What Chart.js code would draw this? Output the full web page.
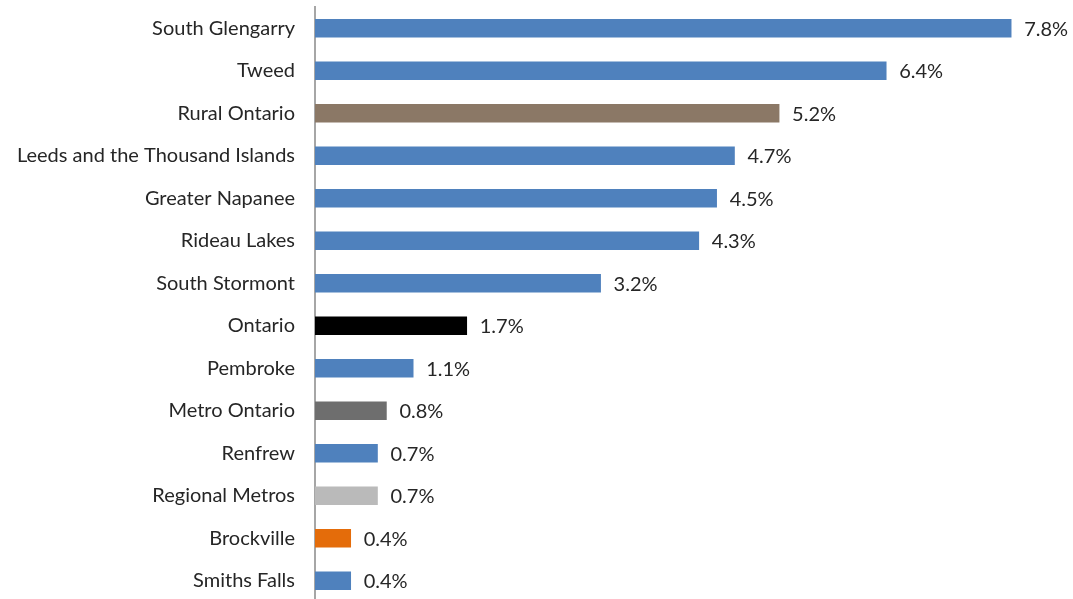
<!DOCTYPE html>
<html>
<head>
<meta charset="utf-8">
<title>Population change</title>
<script src="https://cdn.jsdelivr.net/npm/chart.js@4/dist/chart.umd.min.js"></script>
<style>
  html, body { margin: 0; padding: 0; background: #fff; overflow: hidden; }
  #frame { width: 1073px; height: 599px; overflow: hidden; }
  #wrap { position: relative; width: 1073px; height: 602px; }
</style>
</head>
<body>
<div id="frame"><div id="wrap"><canvas id="chart"></canvas></div></div>
<script>
const places = [
  'South Glengarry', 'Tweed', 'Rural Ontario', 'Leeds and the Thousand Islands',
  'Greater Napanee', 'Rideau Lakes', 'South Stormont', 'Ontario', 'Pembroke',
  'Metro Ontario', 'Renfrew', 'Regional Metros', 'Brockville', 'Smiths Falls'
];
const growth = [7.8, 6.4, 5.2, 4.7, 4.5, 4.3, 3.2, 1.7, 1.1, 0.8, 0.7, 0.7, 0.4, 0.4];
const barColors = [
  '#4f81bd', '#4f81bd', '#8b7866', '#4f81bd', '#4f81bd', '#4f81bd', '#4f81bd',
  '#000000', '#4f81bd', '#6e6e6e', '#4f81bd', '#bababa', '#e46c0a', '#4f81bd'
];

const FONT = 'Lato, "Open Sans", sans-serif';
const TEXT = '#262626';

// percent labels just past the end of each bar
const valueLabels = {
  id: 'valueLabels',
  afterDatasetsDraw(chart) {
    const ctx = chart.ctx;
    const meta = chart.getDatasetMeta(0);
    ctx.save();
    ctx.font = '20px ' + FONT;
    ctx.fillStyle = TEXT;
    ctx.textAlign = 'left';
    ctx.textBaseline = 'middle';
    meta.data.forEach((bar, i) => {
      ctx.fillText(growth[i].toFixed(1) + '%', bar.x + 13, bar.y + 1);
    });
    ctx.restore();
  }
};

new Chart(document.getElementById('chart'), {
  type: 'bar',
  data: {
    labels: places,
    datasets: [{
      data: growth,
      backgroundColor: barColors,
      barThickness: 18
    }]
  },
  options: {
    indexAxis: 'y',
    responsive: true,
    maintainAspectRatio: false,
    animation: false,
    layout: { padding: { top: 7, right: 44, bottom: 0, left: 0 } },
    plugins: {
      legend: { display: false },
      tooltip: { enabled: false }
    },
    scales: {
      x: {
        display: false,
        min: 0,
        max: 8
      },
      y: {
        // fixed label column, no extra room above/below the bars
        afterFit(scale) {
          scale.width = 315;
          scale.paddingTop = 0;
          scale.paddingBottom = 0;
        },
        grid: { display: false, drawTicks: false },
        border: { display: true, color: '#a6a6a6', width: 2 },
        ticks: {
          padding: 20,
          color: TEXT,
          font: { family: FONT, size: 20 }
        }
      }
    }
  },
  plugins: [valueLabels]
});
</script>
</body>
</html>
